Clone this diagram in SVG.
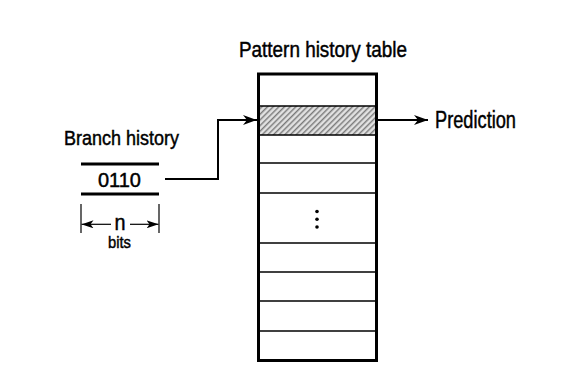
<svg xmlns="http://www.w3.org/2000/svg" width="568" height="384" viewBox="0 0 568 384">
<style>
text{font-family:"Liberation Sans",Arial,sans-serif;fill:#000;stroke:#000;stroke-width:0.45}
.row{stroke:#000;stroke-width:1.5}
.wire{fill:none;stroke:#000;stroke-width:2}
.bar{stroke:#000;stroke-width:3}
.thin{stroke:#000;stroke-width:1.2}
</style>
<defs>
<marker id="ah" viewBox="0 0 14 10" refX="14" refY="5" markerWidth="14" markerHeight="10" markerUnits="userSpaceOnUse" orient="auto">
<path d="M0,0 L14,5 L0,10 L4,5 Z" fill="#000"/>
</marker>
<marker id="ahs" viewBox="0 0 12 8" refX="12" refY="4" markerWidth="12" markerHeight="8" markerUnits="userSpaceOnUse" orient="auto">
<path d="M0,0 L12,4 L0,8 L3,4 Z" fill="#000"/>
</marker>
<pattern id="hatch" width="4" height="4" patternUnits="userSpaceOnUse" patternTransform="rotate(45)">
<rect width="4" height="4" fill="#d4d4d4"/>
<rect width="1.3" height="4" fill="#7a7a7a"/>
<rect x="2.4" width="0.8" height="4" fill="#f2f2f2"/>
</pattern>
</defs>
<rect width="568" height="384" fill="#fff"/>

<g id="table">
<rect x="259.5" y="106" width="116" height="29" fill="url(#hatch)"/>
<line class="row" x1="259" y1="106" x2="376" y2="106"/>
<line class="row" x1="259" y1="135" x2="376" y2="135"/>
<line class="row" x1="259" y1="163" x2="376" y2="163"/>
<line class="row" x1="259" y1="193" x2="376" y2="193"/>
<line class="row" x1="259" y1="243" x2="376" y2="243"/>
<line class="row" x1="259" y1="272" x2="376" y2="272"/>
<line class="row" x1="259" y1="301" x2="376" y2="301"/>
<line class="row" x1="259" y1="331" x2="376" y2="331"/>
<rect x="258.5" y="74" width="118" height="286.5" fill="none" stroke="#000" stroke-width="3"/>
<circle cx="317" cy="211.5" r="1.8" fill="#000"/>
<circle cx="317" cy="219.3" r="1.8" fill="#000"/>
<circle cx="317" cy="227" r="1.8" fill="#000"/>
<text x="239" y="56.5" font-size="21.5" textLength="168" lengthAdjust="spacingAndGlyphs">Pattern history table</text>
</g>

<g id="branch-history">
<text x="64" y="145" font-size="20.5" textLength="115" lengthAdjust="spacingAndGlyphs">Branch history</text>
<line class="bar" x1="81" y1="164" x2="159" y2="164"/>
<line class="bar" x1="81" y1="194" x2="159" y2="194"/>
<text x="98" y="187.3" font-size="20.5" textLength="43" lengthAdjust="spacingAndGlyphs">0110</text>
<line class="thin" x1="81" y1="204" x2="81" y2="233"/>
<line class="thin" x1="159" y1="204" x2="159" y2="233"/>
<text x="120" y="229.5" font-size="22" text-anchor="middle" textLength="11" lengthAdjust="spacingAndGlyphs">n</text>
<text x="108" y="248" font-size="17" textLength="23" lengthAdjust="spacingAndGlyphs">bits</text>
</g>

<g id="prediction">
<text x="435" y="127.5" font-size="23" textLength="81" lengthAdjust="spacingAndGlyphs">Prediction</text>
</g>

<g id="connectors">
<line class="thin" x1="111" y1="224.3" x2="81.5" y2="224.3" marker-end="url(#ahs)"/>
<line class="thin" x1="130" y1="224.3" x2="158.5" y2="224.3" marker-end="url(#ahs)"/>
<polyline class="wire" points="165,179 218,179 218,120 257,120" marker-end="url(#ah)"/>
<line class="wire" x1="377" y1="120" x2="428" y2="120" marker-end="url(#ah)"/>
</g>
</svg>
